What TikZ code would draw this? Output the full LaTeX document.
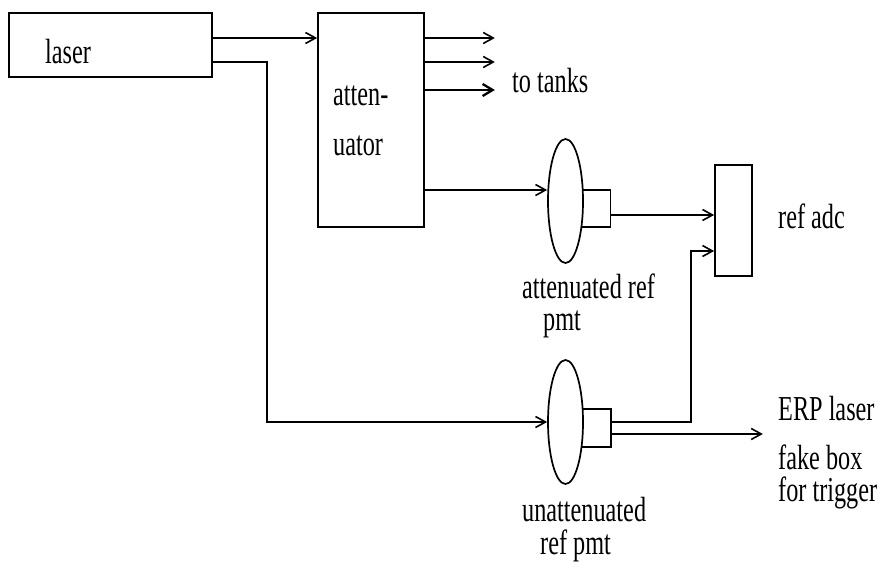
\documentclass[tikz,border=0pt]{standalone}
\usepackage{fontspec}
\setmainfont{Liberation Serif}
\usetikzlibrary{arrows.meta,calc,shapes.geometric}
\newcommand{\tallText}[1]{\scalebox{0.97}[1.40]{#1}}
\tikzset{
  box/.style={draw, line width=1.7pt, inner sep=0pt},
  pmtbody/.style={draw, ellipse, line width=1.7pt, fill=white, inner sep=0pt, minimum width=35pt, minimum height=124pt},
  wire/.style={line width=1.7pt},
  arr/.style={wire, -{Straight Barb[length=10pt,width=11pt,line width=1.6pt]}},
  thickarr/.style={line width=2.5pt, -{Straight Barb[length=10pt,width=12pt,line width=2.3pt]}},
  lbl/.style={anchor=base west, inner sep=0pt, font=\fontsize{25pt}{29pt}\selectfont}
}
\begin{document}
\begin{tikzpicture}[x=1pt,y=-1pt]
\useasboundingbox (0,0) rectangle (882,562);
% boxes
\node[box, minimum width=203pt, minimum height=64pt] (laser) at (110.5,45) {};
\node[box, minimum width=106pt, minimum height=214pt] (atten) at (371,120) {};
\node[box, minimum width=37pt, minimum height=111pt] (adc) at (733.5,220.5) {};
\node[box, minimum width=32pt, minimum height=37pt] (pmt1b) at (594.5,208.5) {};
\node[box, minimum width=33pt, minimum height=38pt] (pmt2b) at (594.5,428) {};
\node[pmtbody] (pmt1) at (565.5,201) {};
\node[pmtbody] (pmt2) at (565.5,422) {};
% labels
\node[lbl] (tlaser) at (45,63) {\tallText{laser}};
\node[lbl] (tatt1) at (333,105) {\tallText{atten-}};
\node[lbl] (tatt2) at (333,155) {\tallText{uator}};
\node[lbl] (ttanks) at (512,92) {\tallText{to tanks}};
\node[lbl] (tadc) at (778,228) {\tallText{ref adc}};
\node[lbl] (tp1a) at (522,298) {\tallText{attenuated ref}};
\node[lbl] (tp1b) at (543,330) {\tallText{pmt}};
\node[lbl] (tp2a) at (522,521) {\tallText{unattenuated}};
\node[lbl] (tp2b) at (540,554) {\tallText{ref pmt}};
\node[lbl] (terp) at (778,420) {\tallText{ERP laser}};
\node[lbl] (tfake1) at (778,469) {\tallText{fake box}};
\node[lbl] (tfake2) at (778,501) {\tallText{for trigger}};
% connectors
\coordinate (l1) at ([yshift=7pt]laser.east);
\coordinate (l2) at ([yshift=-17pt]laser.east);
\draw[arr] (l1) -- (l1 -| atten.west);
\draw[arr] (l2) -- ++(54,0) |- (pmt2.west);
\draw[arr] ([yshift=82pt]atten.east) -- ++(70,0);
\draw[arr] ([yshift=58pt]atten.east) -- ++(70,0);
\draw[thickarr] ([yshift=30pt]atten.east) -- ++(70,0);
\coordinate (a4) at ([yshift=-70pt]atten.east);
\draw[arr] (a4) -- (a4 -| pmt1.west);
\coordinate (p1o) at ([yshift=-6.5pt]pmt1b.east);
\draw[arr] (p1o) -- (p1o -| adc.west);
\coordinate (adcin2) at ([yshift=-30.5pt]adc.west);
\draw[arr] ([yshift=6pt]pmt2b.east) -- ++(79,0) |- (adcin2);
\draw[arr] ([yshift=-6pt]pmt2b.east) -- ++(151,0);
\end{tikzpicture}
\end{document}
